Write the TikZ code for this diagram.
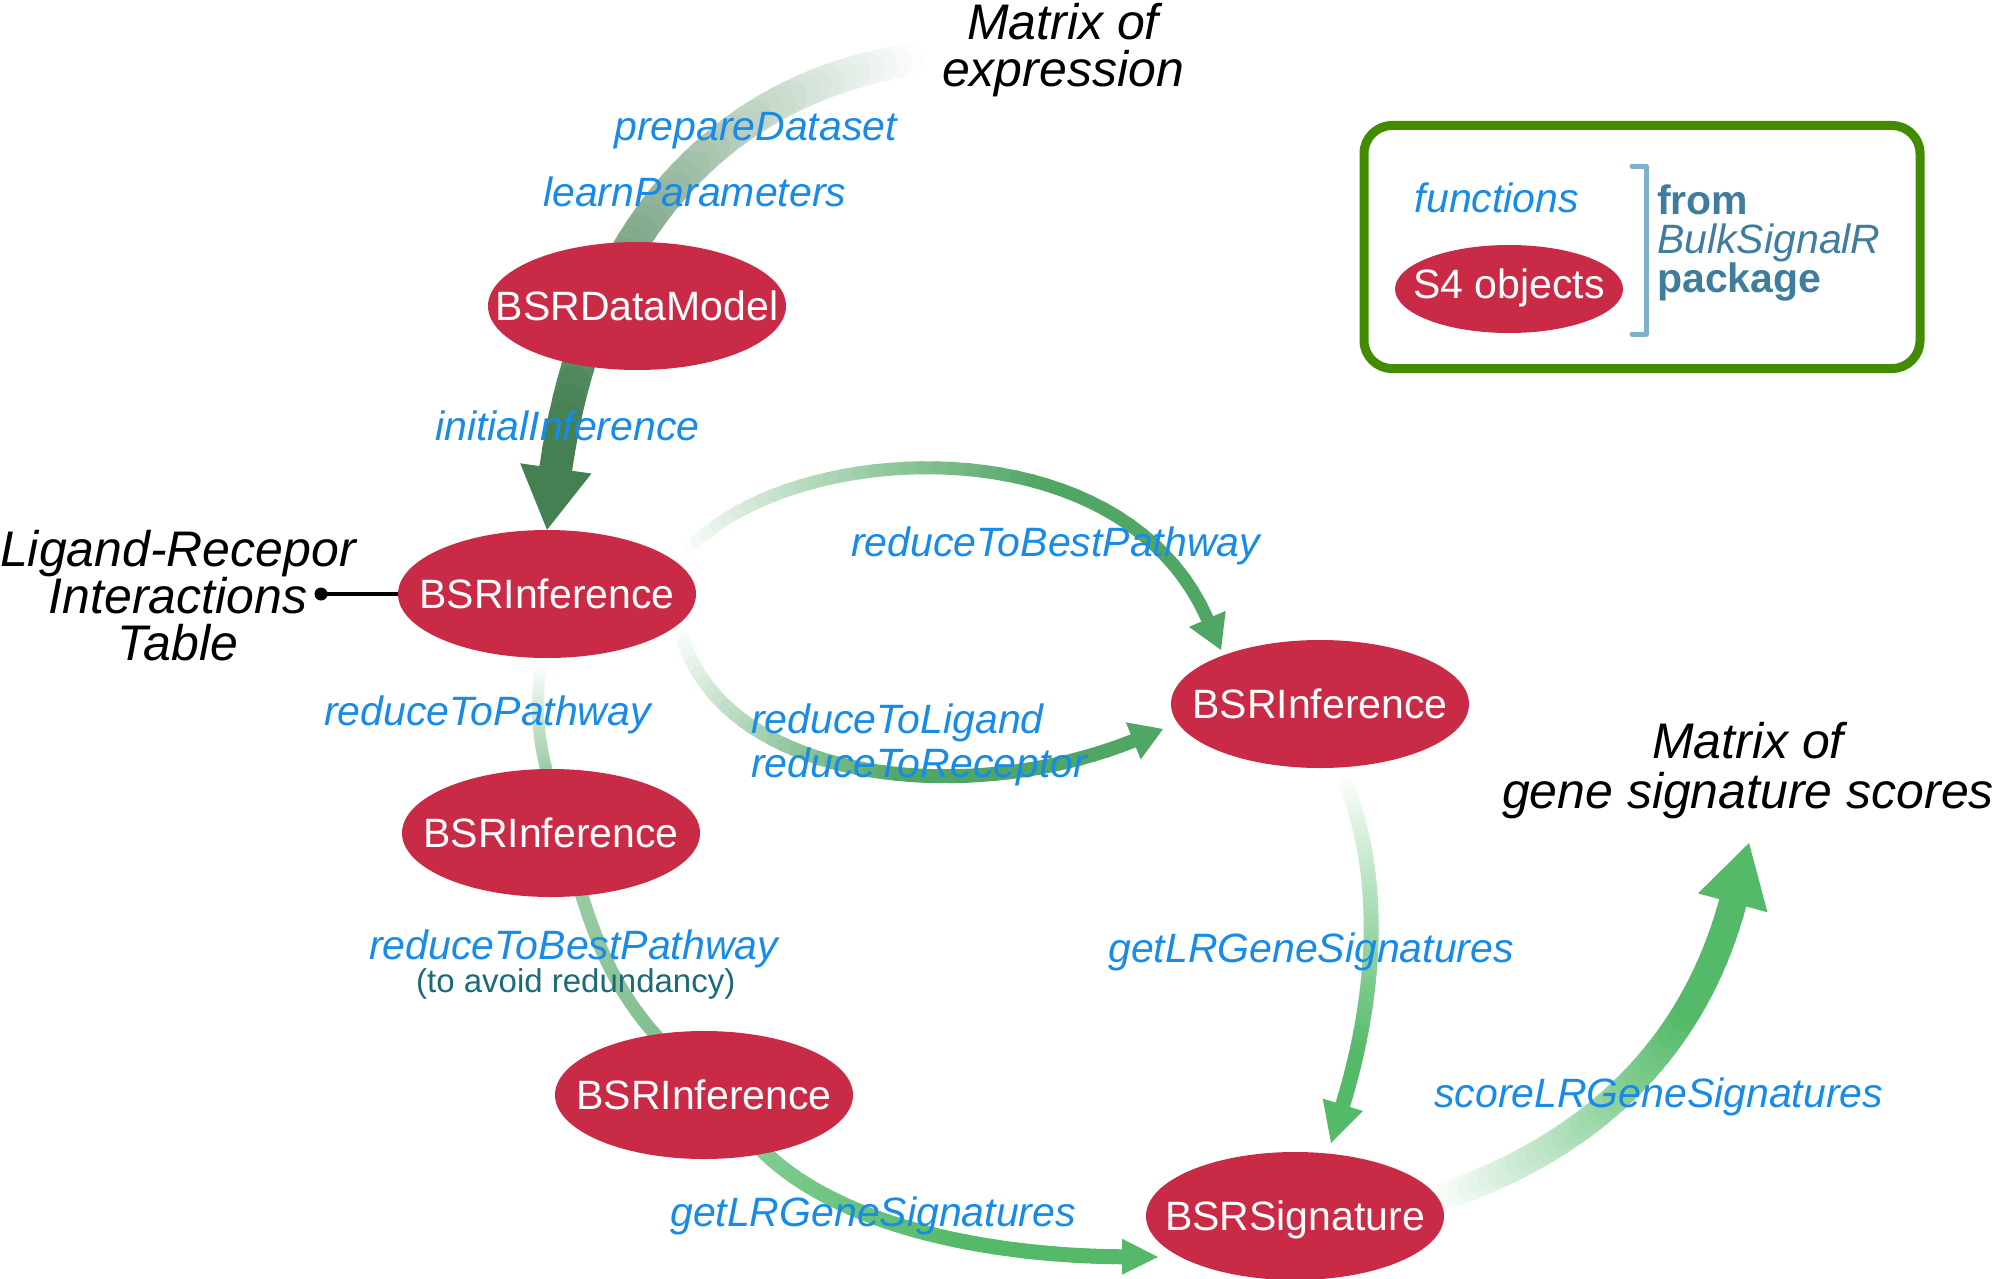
\documentclass[tikz,border=0pt]{standalone}
\usepackage{fontspec}
\setmainfont{Liberation Sans}
\usetikzlibrary{shapes.geometric,calc}
\definecolor{objred}{RGB}{201,42,69}
\definecolor{gdark}{RGB}{68,128,82}
\definecolor{gmid}{RGB}{80,166,100}
\definecolor{gbright}{RGB}{84,186,106}
\definecolor{fnblue}{RGB}{24,139,230}
\definecolor{pkgblue}{RGB}{64,124,156}
\definecolor{legendgreen}{RGB}{67,140,0}
\definecolor{brk}{RGB}{127,176,204}
\definecolor{noteteal}{RGB}{26,106,120}
\newcommand\setfsz[2]{\fontsize{#1}{#2}\selectfont}
% gradient shaft: start, ctrl1, ctrl2, end, width, colour, start percent, fraction where full colour is reached
\newcommand\gshaft[8]{%
  \foreach \gi in {0,...,39}{%
    \pgfmathsetmacro\gta{\gi/40}%
    \pgfmathsetmacro\gtb{(\gi+1)/40}%
    \pgfmathsetmacro\gpc{min(100,#7+(100-#7)*(\gi+0.5)/(40*#8))}%
    \path (#1) .. controls (#2) and (#3) .. (#4) coordinate[pos=\gta] (gA) coordinate[pos=\gtb] (gB);%
    \draw[line width=#5, line cap=round, draw=#6!\gpc!white] (gA) -- (gB);%
  }%
}
% arrow head: tip, base, half width, colour
\newcommand\ghead[4]{%
  \fill[#4] (#1) -- ($(#2)!#3!90:(#1)$) -- ($(#2)!#3!-90:(#1)$) -- cycle;%
}
\pgfdeclarelayer{background}
\pgfsetlayers{background,main}
\tikzset{
  obj/.style={ellipse, fill=objred, text=white, inner xsep=-70pt, inner ysep=0pt,
    minimum width=298pt, minimum height=128pt,
    font=\setfsz{41}{45}, text height=29.4pt, text depth=0pt},
  fn/.style={text=fnblue, font=\setfsz{41}{44}\itshape, inner sep=0pt, anchor=base west, align=left},
  note/.style={font=\setfsz{50}{47}\itshape, inner sep=0pt, align=center, anchor=base},
  pkg/.style={text=pkgblue, font=\setfsz{41}{39}, inner sep=0pt, align=left, anchor=base west},
}
\begin{document}
\begin{tikzpicture}[x=1pt,y=-1pt]
\useasboundingbox (0,0) rectangle (1994,1279);

% S4 objects
\node[obj] (dm) at (637,306) {BSRDataModel};
\node[obj] (inf1) at (547,594) {BSRInference};
\node[obj] (inf2) at (1320,704) {BSRInference};
\node[obj] (inf3) at (551,833) {BSRInference};
\node[obj] (inf4) at (704,1095) {BSRInference};
\node[obj] (sig) at (1295,1216) {BSRSignature};

% free texts (base = baseline of the last line)
\node[note] (mexpr) at (1063,87) {Matrix of\\expression};
\node[note] (lrt) at (178,660) {Ligand-Recepor\\Interactions\\Table};
\node[note, font=\setfsz{50}{50}\itshape] (mscore) at (1748,808) {Matrix of\\gene signature scores};

% Ligand-receptor table link
\node[circle, fill=black, inner sep=0pt, minimum size=13pt] (lrdot) at (321,594) {};
\draw[line width=4.5pt] (lrdot.center) -- (inf1.west);

% connectors (behind nodes)
\begin{pgfonlayer}{background}
  % Matrix of expression -> BSRDataModel -> BSRInference
  \coordinate (a1s) at (909,60);
  \coordinate (a1c1) at (720,90);
  \coordinate (a1c2) at (590,230);
  \coordinate (a1b) at ($(inf1.north)!62pt!(a1c2)$);
  \gshaft{a1s}{a1c1}{a1c2}{a1b}{33pt}{gdark}{0}{0.95}
  \ghead{inf1.north}{a1b}{36pt}{gdark}
  % reduceToBestPathway (top)
  \coordinate (a2s) at (689,549);
  \coordinate (a2c1) at (790,440);
  \coordinate (a2c2) at (1120,420);
  \coordinate (a2t) at (1221,650);
  \coordinate (a2b) at ($(a2t)!34pt!(a2c2)$);
  \gshaft{a2s}{a2c1}{a2c2}{a2b}{13pt}{gmid}{0}{0.65}
  \ghead{a2t}{a2b}{20pt}{gmid}
  % reduceToLigand / reduceToReceptor
  \coordinate (a3s) at (681,632);
  \coordinate (a3c1) at (720,780);
  \coordinate (a3c2) at (960,810);
  \coordinate (a3t) at (1163,729);
  \coordinate (a3b) at ($(a3t)!32pt!(a3c2)$);
  \gshaft{a3s}{a3c1}{a3c2}{a3b}{14pt}{gmid}{0}{0.6}
  \ghead{a3t}{a3b}{20pt}{gmid}
  % reduceToPathway
  \coordinate (a4s) at (541,668);
  \coordinate (a4c1) at (535,705);
  \coordinate (a4c2) at (538,740);
  \coordinate (a4e) at (548,776);
  \gshaft{a4s}{a4c1}{a4c2}{a4e}{12pt}{gmid!58!white}{0}{1}
  % reduceToBestPathway (lower)
  \coordinate (a5s) at (580,890);
  \coordinate (a5c1) at (596,940);
  \coordinate (a5c2) at (615,995);
  \coordinate (a5e) at (668,1048);
  \gshaft{a5s}{a5c1}{a5c2}{a5e}{13pt}{gmid!72!white}{80}{1}
  % getLRGeneSignatures (bottom)
  \coordinate (a6s) at (760,1148);
  \coordinate (a6c1) at (840,1230);
  \coordinate (a6c2) at (1000,1256);
  \coordinate (a6t) at (1158,1257);
  \coordinate (a6b) at ($(a6t)!36pt!(a6c2)$);
  \gshaft{a6s}{a6c1}{a6c2}{a6b}{15pt}{gbright}{72}{0.6}
  \ghead{a6t}{a6b}{18pt}{gbright}
  % getLRGeneSignatures (right)
  \coordinate (a7s) at (1345,782);
  \coordinate (a7c1) at (1385,880);
  \coordinate (a7c2) at (1375,1000);
  \coordinate (a7t) at (1331,1143);
  \coordinate (a7b) at ($(a7t)!40pt!(a7c2)$);
  \gshaft{a7s}{a7c1}{a7c2}{a7b}{15pt}{gbright}{0}{0.85}
  \ghead{a7t}{a7b}{21pt}{gbright}
  % scoreLRGeneSignatures
  \coordinate (a8s) at (1440,1198);
  \coordinate (a8c1) at (1580,1150);
  \coordinate (a8c2) at (1690,1060);
  \coordinate (a8t) at (1749,843);
  \coordinate (a8b) at ($(a8t)!62pt!(a8c2)$);
  \gshaft{a8s}{a8c1}{a8c2}{a8b}{28pt}{gbright}{0}{0.75}
  \ghead{a8t}{a8b}{36pt}{gbright}
\end{pgfonlayer}

% function labels
\node[fn] (fprep) at (614,141) {prepareDataset};
\node[fn] (flearn) at (543,206) {learnParameters};
\node[fn] (finit) at (435,440) {initialInference};
\node[fn] (fbest1) at (851,556) {reduceToBestPathway};
\node[fn] (fpath) at (324,725) {reduceToPathway};
\node[fn] (flig) at (751,777) {reduceToLigand\\reduceToReceptor};
\node[fn] (fbest2) at (369,959) {reduceToBestPathway};
\node[inner sep=0pt, anchor=base west, text=noteteal, font=\setfsz{33}{36}] (fred) at (416,992) {(to avoid redundancy)};
\node[fn] (fsig1) at (1108,962) {getLRGeneSignatures};
\node[fn] (fsig2) at (670,1226) {getLRGeneSignatures};
\node[fn] (fscore) at (1434,1107) {scoreLRGeneSignatures};

% legend
\node[draw=legendgreen, line width=9pt, rounded corners=28pt, minimum width=556pt, minimum height=243pt, inner sep=0pt] (legend) at (1642,247) {};
\node[fn, anchor=base] (lfn) at (1497,212) {functions};
\node[obj, minimum width=228pt, minimum height=88pt, text depth=11pt] (ls4) at (1509,289) {S4 objects};
\draw[brk, line width=5pt, line cap=round, line join=round] (1632,166) -- (1646,166) -- (1646,334) -- (1632,334);
\node[pkg] (lpkg) at (1657,292) {{\bfseries from}\\{\itshape BulkSignalR}\\{\bfseries package}};
\end{tikzpicture}
\end{document}
